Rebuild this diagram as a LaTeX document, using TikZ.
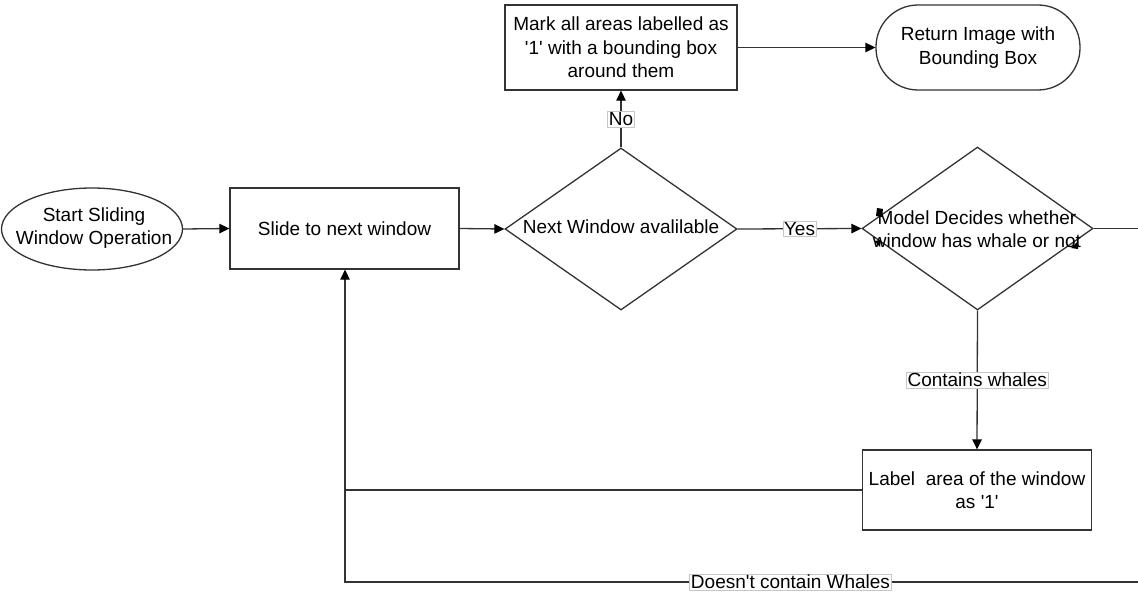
\documentclass[tikz,border=0pt]{standalone}
\usepackage{fontspec}
\setmainfont{Liberation Sans}
\usetikzlibrary{shapes.geometric,arrows.meta}
\definecolor{ln}{HTML}{333333}
\newcommand{\q}{\textquotesingle}
\tikzset{
  base/.style={draw=ln, line width=1.3pt, inner sep=2pt, align=center, font=\fontsize{19}{23.5}\selectfont},
  boxnode/.style={base, rectangle},
  roundnode/.style={base, rectangle, rounded corners=42pt},
  ellnode/.style={draw=ln, line width=1.3pt, ellipse, inner sep=0pt},
  dia/.style={draw=ln, line width=1.3pt, diamond, inner sep=0pt},
  txt/.style={align=center, font=\fontsize{19}{23.5}\selectfont, inner sep=0pt},
  conn/.style={draw=ln, line width=1.3pt},
  arr/.style={conn, -{Triangle[length=10pt,width=9.5pt,color=black]}},
  lbl/.style={fill=white, draw=gray!45, line width=0.6pt, inner sep=1.2pt, font=\fontsize{19}{22}\selectfont}
}
\begin{document}
\begin{tikzpicture}[x=1pt,y=-1pt]
\useasboundingbox[fill=white] (0,0) rectangle (1138,594);

\node[ellnode, minimum width=181pt, minimum height=82pt] (start) at (92,229) {};
\node[txt] (starttxt) at (94,228) {Start Sliding\\Window Operation};
\node[boxnode, minimum width=229pt, minimum height=81pt] (slide) at (344.5,228.5) {Slide to next window};
\node[dia, minimum width=232pt, minimum height=162pt] (next) at (621,229) {};
\node[txt] (nexttxt) at (621,227) {Next Window avalilable};
\node[boxnode, minimum width=232pt, minimum height=85pt] (mark) at (621,47.5) {Mark all areas labelled as\\\q1\q{} with a bounding box\\around them};
\node[roundnode, minimum width=204pt, minimum height=85pt] (ret) at (978,47.5) {Return Image with\\Bounding Box};
\node[dia, minimum width=231pt, minimum height=163pt] (model) at (977.5,228.5) {};
\node[txt] (modeltxt) at (977,229) {Model Decides whether\\window has whale or not};
\node[boxnode, minimum width=229pt, minimum height=80pt] (labelbox) at (977,490) {Label\ \ area of the window\\as \q1\q};

\coordinate (j) at (345,490);
\coordinate (r1) at (1170,228.5);
\coordinate (r2) at (1170,582);
\coordinate (b) at (345,582);

\draw[arr] (start.east) -- (slide.west);
\draw[arr] (slide.east) -- (next.west);
\draw[arr] (next.north) -- node[lbl] {No} (mark.south);
\draw[arr] (next.east) -- node[lbl] {Yes} (model.west);
\draw[arr] (mark.east) -- (ret.west);
\draw[arr] (model.south) -- node[lbl] {Contains whales} (labelbox.north);
\draw[conn] (labelbox.west) -- (j);
\draw[arr] (model.east) -- (r1) -- (r2) -- node[lbl, pos=0.46] {Doesn\q t contain Whales} (b) -- (slide.south -| b);

% small stray arrow tips inside the decision shape
\fill[black] (877,208) -- (883,209) -- (882,217) -- (876,216) -- cycle;
\fill[black] (874,241) -- (881,240) -- (880,247) -- cycle;
\fill[black] (1071,248) -- (1078,241) -- (1078,249) -- cycle;
\end{tikzpicture}
\end{document}
